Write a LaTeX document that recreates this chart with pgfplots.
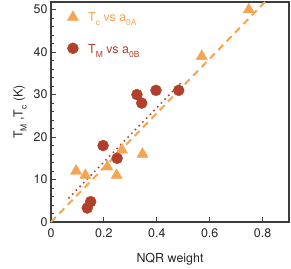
\documentclass[border=0pt]{standalone}
\usepackage{pgfplots}
\pgfplotsset{compat=1.18}
\usepackage{fontspec}
\setmainfont{TeX Gyre Heros}
\definecolor{tor}{RGB}{246,163,82}
\definecolor{tbr}{RGB}{176,64,44}
\definecolor{frm}{RGB}{60,60,60}
\newcommand\sub[1]{\raisebox{-0.33em}{\fontsize{8.5}{9}\selectfont #1}}
\begin{document}
\begin{tikzpicture}
\begin{axis}[
  scale only axis,
  width=238bp, height=220bp,
  xmin=0, xmax=0.9, ymin=0, ymax=51.8,
  xtick={0,0.2,0.4,0.6,0.8},
  xticklabels={0,0.2,0.4,0.6,0.8},
  ytick={0,10,20,30,40,50},
  minor y tick num=4,
  tick align=inside,
  xtick pos=bottom, ytick pos=left,
  major tick length=5bp, minor tick length=3bp,
  axis line style={frm, line width=1.1pt},
  every tick/.style={frm, line width=0.8pt},
  tick label style={font=\fontsize{12.5}{15}\selectfont, text=black!85},
  xticklabel style={yshift=-3bp},
  label style={font=\fontsize{12.5}{15}\selectfont, text=black!85},
  /pgf/number format/assume math mode=true,
  xlabel={NQR weight},
  ylabel={T\sub{M} ,T\sub{c} (K)},
  xlabel style={yshift=-9bp},
  ylabel style={yshift=0bp},
  clip=false,
]
\addplot[tor, line width=2pt, dash pattern=on 7bp off 5bp] coordinates {(0,0) (0.815,52.2)};
\addplot[tbr, line width=2.2pt, dash pattern=on 0pt off 5.3bp, line cap=round] coordinates {(0.068,5.7) (0.5,33.3)};
\addplot[only marks, mark=triangle*, mark size=6.5bp, color=tor] coordinates {
(0.095,12) (0.13,11) (0.213,13) (0.248,11) (0.268,17) (0.346,16) (0.57,39) (0.748,50)};
\addplot[only marks, mark=*, mark size=5.5bp, color=tbr] coordinates {
(0.137,3.3) (0.15,4.8) (0.197,18) (0.25,15) (0.325,30) (0.343,28) (0.397,31) (0.483,31)};
\addplot[only marks, mark=triangle*, mark size=6.5bp, color=tor] coordinates {(0.083,48.2)};
\addplot[only marks, mark=*, mark size=5.5bp, color=tbr] coordinates {(0.083,40.9)};
\node[anchor=base west, inner sep=0pt, text=tor, font=\fontsize{12.5}{15}\selectfont] at (axis cs:0.14,47.3) {T\sub{c} vs a\sub{0A}};
\node[anchor=base west, inner sep=0pt, text=tbr, font=\fontsize{12.5}{15}\selectfont] at (axis cs:0.14,39.7) {T\sub{M} vs a\sub{0B}};
\end{axis}
\pgfresetboundingbox
\path ([shift={(-51bp,-46bp)}]current axis.south west) rectangle ([shift={(2bp,2bp)}]current axis.north east);
\end{tikzpicture}
\end{document}
